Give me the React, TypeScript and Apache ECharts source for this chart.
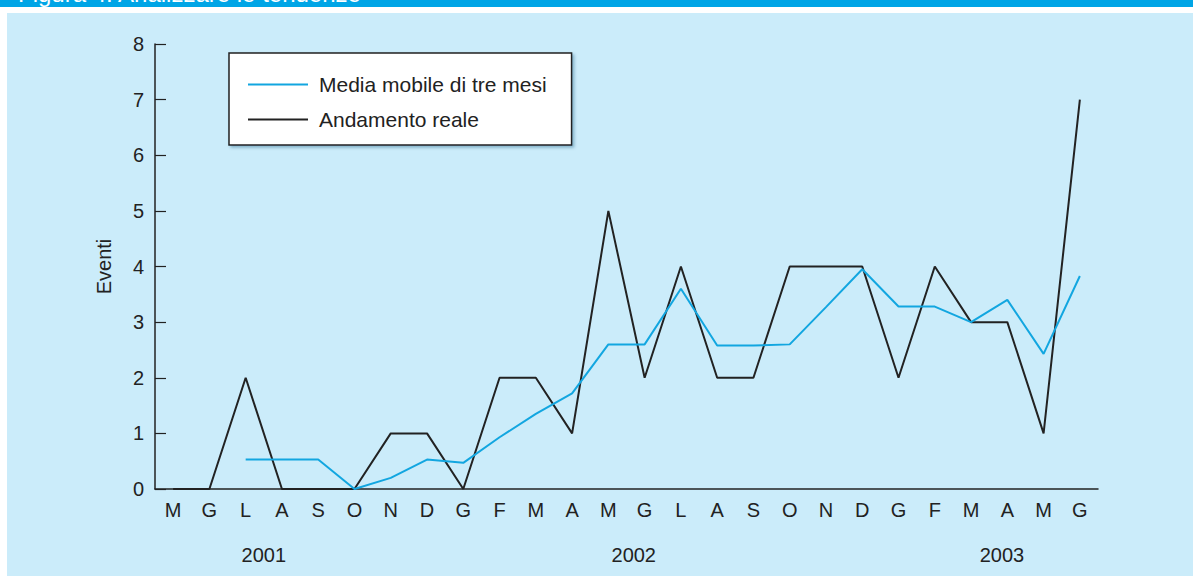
import React, { useEffect, useRef } from "react";
import * as echarts from "echarts";

const months = ["M", "G", "L", "A", "S", "O", "N", "D", "G", "F", "M", "A", "M", "G", "L", "A", "S", "O", "N", "D", "G", "F", "M", "A", "M", "G"];
const actual = [0, 0, 2, 0, 0, 0, 1, 1, 0, 2, 2, 1, 5, 2, 4, 2, 2, 4, 4, 4, 2, 4, 3, 3, 1, 7];
const movingAvg = [null, null, 0.53, 0.53, 0.53, 0, 0.2, 0.53, 0.47, 0.93, 1.35, 1.72, 2.6, 2.6, 3.6, 2.58, 2.58, 2.6, 3.27, 3.95, 3.28, 3.28, 3.0, 3.4, 2.43, 3.83];
const years = ["2001", "2002", "2003"];
const yearPositions = [2.5, 12.7, 22.85];
const seriesNames = ["Media mobile di tre mesi", "Andamento reale"];
const title = "Figura 4. Analizzare le tendenze";

const FONT = "'Liberation Sans', Arial, sans-serif";
const INK = "#222";
const BLUE = "#12a6e0";

export default function App() {
  const ref = useRef<HTMLDivElement>(null);
  useEffect(() => {
    if (!ref.current) return;
    const chart = echarts.init(ref.current, null, { renderer: "svg" });
    chart.setOption({
      animation: false,
      backgroundColor: "#cbecfa",
      textStyle: { fontFamily: FONT },
      grid: { left: 155, right: 95, top: 44, bottom: 87, containLabel: false },
      graphic: [
        { type: "rect", left: 0, top: 0, shape: { width: 1193, height: 13 }, style: { fill: "#ffffff" }, silent: true },
        { type: "rect", left: 0, top: 0, shape: { width: 7, height: 576 }, style: { fill: "#ffffff" }, silent: true },
        { type: "rect", left: 0, top: 0, shape: { width: 1193, height: 7 }, style: { fill: "#00a5e6" }, silent: true },
        {
          type: "text",
          x: 18,
          y: 5,
          silent: true,
          style: { text: title, fill: "#ffffff", font: `24px ${FONT}`, verticalAlign: "bottom" },
        },
      ],
      legend: {
        left: 229,
        top: 53,
        orient: "vertical",
        backgroundColor: "#ffffff",
        borderColor: INK,
        borderWidth: 1.5,
        shadowColor: "rgba(0,70,110,0.35)",
        shadowBlur: 3,
        shadowOffsetX: 2,
        shadowOffsetY: 2,
        padding: [21, 25, 15, 19],
        icon: "rect",
        itemWidth: 60,
        itemHeight: 2,
        itemGap: 14,
        textStyle: { fontSize: 21, lineHeight: 20, color: INK, fontFamily: FONT, padding: [0, 0, 0, 6] },
        data: seriesNames,
      },
      xAxis: [
        {
          type: "category",
          data: months,
          boundaryGap: true,
          axisLine: { onZero: false, lineStyle: { color: INK, width: 1.5 } },
          axisTick: { inside: true, length: 11, lineStyle: { color: INK, width: 1.2 } },
          axisLabel: { interval: 0, fontSize: 20, color: INK, margin: 11, fontFamily: FONT },
          splitLine: { show: false },
        },
        {
          type: "value",
          position: "bottom",
          min: -0.5,
          max: 25.5,
          axisLine: { show: false, onZero: false },
          axisTick: { show: false },
          splitLine: { show: false },
          axisLabel: {
            customValues: yearPositions,
            fontSize: 20,
            color: INK,
            margin: 56,
            fontFamily: FONT,
            formatter: (v: number) => {
              const i = yearPositions.findIndex((p) => Math.abs(p - v) < 1e-6);
              return i >= 0 ? years[i] : "";
            },
          },
        },
      ],
      yAxis: {
        type: "value",
        min: 0,
        max: 8,
        interval: 1,
        name: "Eventi",
        nameLocation: "middle",
        nameRotate: 90,
        nameGap: 41,
        nameTextStyle: { fontSize: 20, color: INK, fontFamily: FONT },
        axisLine: { show: true, onZero: false, lineStyle: { color: INK, width: 1.5 } },
        axisTick: { show: true, inside: true, length: 11, lineStyle: { color: INK, width: 1.2 } },
        axisLabel: { fontSize: 20, color: INK, margin: 11, fontFamily: FONT },
        splitLine: { show: false },
      },
      series: [
        {
          name: seriesNames[0],
          type: "line",
          data: movingAvg,
          symbol: "none",
          connectNulls: false,
          lineStyle: { color: BLUE, width: 2 },
          itemStyle: { color: BLUE },
          z: 3,
        },
        {
          name: seriesNames[1],
          type: "line",
          data: actual,
          symbol: "none",
          lineStyle: { color: INK, width: 2 },
          itemStyle: { color: INK },
          z: 2,
        },
      ],
    });
    return () => chart.dispose();
  }, []);
  return <div ref={ref} style={{ position: "fixed", left: 0, top: 0, width: 1193, height: 576 }} />;
}
